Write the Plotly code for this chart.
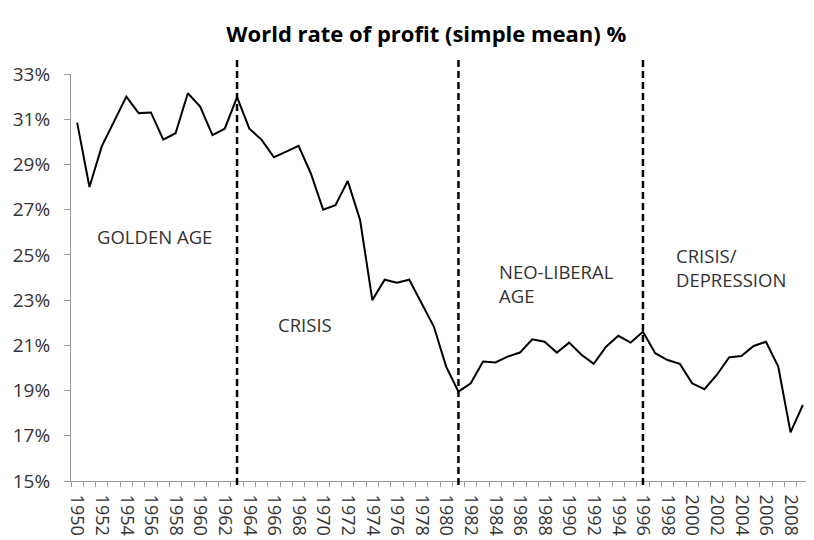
import plotly.graph_objects as go

years = list(range(1950, 2010))
rate = [30.85, 28.0, 29.8, 30.9, 32.0, 31.27, 31.3, 30.1, 30.38, 32.15,
        31.56, 30.3, 30.58, 31.98, 30.58, 30.09, 29.32, 29.57, 29.82, 28.6,
        27.0, 27.2, 28.27, 26.55, 23.0, 23.9, 23.77, 23.9, 22.86, 21.83,
        20.06, 18.95, 19.32, 20.28, 20.24, 20.5, 20.68, 21.27, 21.16, 20.68,
        21.12, 20.58, 20.18, 20.94, 21.42, 21.12, 21.6, 20.65, 20.35, 20.18,
        19.32, 19.06, 19.69, 20.47, 20.53, 20.97, 21.16, 20.06, 17.15, 18.36]
period_breaks = [1963, 1981, 1996]
period_labels = [
    (1951.45, 25.8, "GOLDEN AGE"),
    (1966.2, 21.9, "CRISIS"),
    (1984.15, 23.75, "NEO-LIBERAL<br>AGE"),
    (1998.5, 24.45, "CRISIS/<br>DEPRESSION"),
]
y_ticks = list(range(15, 34, 2))
x_label_years = years[::2]

FONT = "'Open Sans', sans-serif"

fig = go.Figure()
fig.add_trace(go.Scatter(x=years, y=rate, mode="lines",
                         line=dict(color="black", width=2), showlegend=False))

for yr in period_breaks:
    fig.add_shape(type="line", xref="x", yref="paper", x0=yr, x1=yr,
                  y0=-0.01, y1=1.042,
                  line=dict(color="black", width=2.5, dash="7px,4px"))

for x, y, t in period_labels:
    fig.add_annotation(x=x, y=y, text=t, showarrow=False, xanchor="left",
                       yanchor="middle", align="left",
                       font=dict(family=FONT, size=18.5, color="#333333"))

fig.update_layout(
    width=806, height=532,
    margin=dict(l=63, r=5, t=66, b=59),
    paper_bgcolor="white", plot_bgcolor="white",
    title=dict(text="<b>World rate of profit (simple mean) %</b>",
               x=0.519, xanchor="center", y=0.951, yanchor="middle",
               font=dict(family=FONT, size=22, color="black")),
    font=dict(family=FONT, color="#333333"),
)
fig.update_xaxes(range=[1949.5, 2009.5], tickmode="array",
                 tickvals=x_label_years, ticktext=[str(y) for y in x_label_years],
                 tickangle=90, ticks="", showgrid=False, zeroline=False,
                 automargin=False, ticklabelstandoff=9,
                 showline=True, linecolor="#999999", linewidth=1,
                 tickfont=dict(family=FONT, size=18, color="#333333"),
                 minor=dict(tickmode="array",
                            tickvals=[y - 0.5 for y in years] + [years[-1] + 0.5],
                            ticks="outside", ticklen=5, tickcolor="#999999",
                            showgrid=False))
fig.update_yaxes(range=[15, 33], tickmode="array", tickvals=y_ticks,
                 ticktext=[f"{v}%" for v in y_ticks],
                 ticks="outside", ticklen=6, tickcolor="#999999",
                 showgrid=False, zeroline=False, automargin=False,
                 ticklabelstandoff=10,
                 showline=True, linecolor="#999999", linewidth=1,
                 tickfont=dict(family=FONT, size=19, color="#333333"))

fig.write_html("out.html")
